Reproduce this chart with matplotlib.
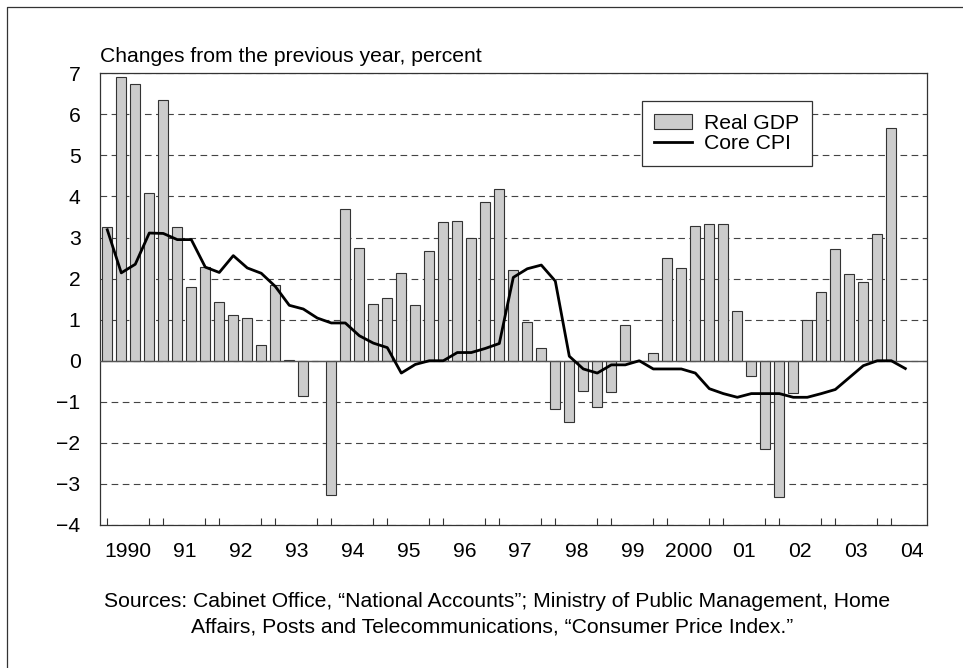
import numpy as np
import matplotlib
matplotlib.use("Agg")
import matplotlib.pyplot as plt
from matplotlib.lines import Line2D

plt.rcParams['font.family'] = ['Liberation Sans', 'DejaVu Sans']
plt.rcParams['font.size'] = 15.2

# Quarterly data, 1990 Q1 onward (percent change from previous year)
gdp = [3.26, 6.91, 6.73, 4.08, 6.35, 3.26, 1.79, 2.28, 1.42, 1.11, 1.04, 0.38,
       1.84, 0.03, -0.86, 0.0, -3.27, 3.69, 2.74, 1.38, 1.53, 2.13, 1.36, 2.67,
       3.37, 3.41, 2.99, 3.86, 4.19, 2.20, 0.95, 0.30, -1.17, -1.49, -0.74, -1.12,
       -0.77, 0.88, 0.0, 0.19, 2.50, 2.27, 3.27, 3.32, 3.32, 1.21, -0.38, -2.14,
       -3.31, -0.78, 0.99, 1.68, 2.73, 2.12, 1.91, 3.09, 5.66]
core_cpi = [3.19, 2.14, 2.35, 3.11, 3.10, 2.95, 2.95, 2.28, 2.15, 2.56, 2.26, 2.13,
            1.81, 1.35, 1.26, 1.04, 0.92, 0.92, 0.61, 0.43, 0.32, -0.30, -0.09, 0.0,
            0.0, 0.2, 0.2, 0.30, 0.42, 2.03, 2.24, 2.33, 1.94, 0.11, -0.2, -0.3,
            -0.1, -0.1, 0.0, -0.2, -0.2, -0.2, -0.3, -0.68, -0.8, -0.89, -0.8, -0.8,
            -0.8, -0.89, -0.89, -0.8, -0.7, -0.41, -0.12, 0.0, 0.0, -0.19]
year_labels = ["1990", "91", "92", "93", "94", "95", "96", "97", "98", "99",
               "2000", "01", "02", "03", "04"]

W, H = 963, 668
fig = plt.figure(figsize=(W / 100, H / 100), dpi=100)
ax = fig.add_axes([100 / W, (H - 525) / H, (927.3 - 100) / W, (525 - 73.3) / H])

xg = np.arange(len(gdp))
xc = np.arange(len(core_cpi))

ax.bar(xg, gdp, width=0.71, color="#cccccc", edgecolor="#333333", linewidth=0.8,
       zorder=2)
ax.axhline(0, color="#555555", lw=1.0, zorder=3)
ax.plot(xc, core_cpi, color="black", lw=2.0, zorder=4, solid_joinstyle="round")

ax.set_xlim(-0.52, 58.57)
ax.set_ylim(-4, 7)
ax.set_yticks(range(-4, 8))
ax.tick_params(axis="y", length=0, pad=14)

# year labels centred on each year's four quarters, tick marks at year ends
ax.set_xticks([4 * i + 1.5 for i in range(len(year_labels))])
ax.set_xticklabels(year_labels)
ax.tick_params(axis="x", which="major", length=0, pad=12)
minor = [0] + [q for k in range(1, 15) for q in (4 * k - 1, 4 * k)]
ax.set_xticks(minor, minor=True)
ax.tick_params(axis="x", which="minor", direction="in", length=5, width=0.8,
               color="#333333")

ax.grid(axis="y", color="#444444", lw=0.8, linestyle=(0, (6, 4)))
ax.set_axisbelow(True)
for s in ax.spines.values():
    s.set_color("#333333")
    s.set_linewidth(0.9)

handles = [plt.Rectangle((0, 0), 1, 1, facecolor="#cccccc", edgecolor="#333333",
                         linewidth=0.8),
           Line2D([], [], color="black", lw=2.0)]
leg = ax.legend(handles, ["Real GDP", "Core CPI"], loc="upper left",
                bbox_to_anchor=(641.7 / W, (H - 101) / H),
                bbox_transform=fig.transFigure, fancybox=False, framealpha=1,
                edgecolor="#333333", borderpad=0.6, labelspacing=0.08,
                handlelength=1.8, handletextpad=0.55, borderaxespad=0)
leg.get_frame().set_linewidth(0.9)

fig.text(100 / W, (H - 62) / H, "Changes from the previous year, percent",
         ha="left", va="baseline")
fig.text(497 / W, (H - 601.7) / H,
         "Sources: Cabinet Office, \u201cNational Accounts\u201d; Ministry of Public Management, Home",
         ha="center", va="center")
fig.text(492 / W, (H - 626.7) / H,
         "Affairs, Posts and Telecommunications, \u201cConsumer Price Index.\u201d",
         ha="center", va="center")

# outer border (top and left edges visible)
fig.add_artist(Line2D([7 / W, 7 / W, 1], [0, (H - 7) / H, (H - 7) / H],
                      transform=fig.transFigure, color="#333333", lw=0.9))

fig.savefig("out.png", dpi=100)
